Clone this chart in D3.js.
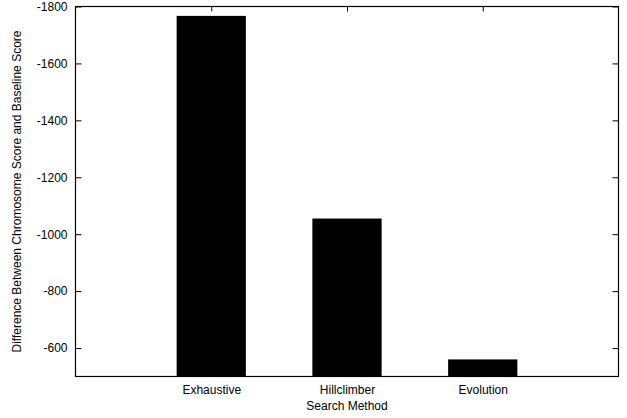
<!DOCTYPE html>
<html><head><meta charset="utf-8">
<script src="https://cdn.jsdelivr.net/npm/d3@7"></script>
<style>body{margin:0;background:#fff}svg{display:block}text{font-family:"Liberation Sans",Arial,sans-serif;font-size:12px;fill:#000}</style>
</head><body>
<svg id="c" width="627" height="418"></svg>
<script>
const categories = ["Exhaustive", "Hillclimber", "Evolution"];
const values = [-1767, -1055, -560];
const yTicks = [-1800, -1600, -1400, -1200, -1000, -800, -600];

const svg = d3.select("#c");
const m = {l: 75.5, t: 6.5, r: 618.5, b: 376.5};
const x = d3.scaleLinear().domain([0, 4]).range([m.l, m.r]);
const y = d3.scaleLinear().domain([-1800, -500]).range([m.t, m.b]);
const bw = 0.51;

// bars
svg.selectAll("rect.bar").data(values).enter().append("rect")
  .attr("x", (d, i) => x(i + 1 - bw / 2))
  .attr("width", (d, i) => x(i + 1 + bw / 2) - x(i + 1 - bw / 2))
  .attr("y", d => y(d))
  .attr("height", d => y(-500) - y(d))
  .attr("fill", "#000");

// axes
const g = svg.append("g");
g.append("g").attr("transform", `translate(${m.l},0)`)
  .call(d3.axisLeft(y).tickValues(yTicks).tickSize(-6).tickFormat(d => String(d)))
  .call(s => { s.select(".domain").remove(); s.selectAll("text").style("font-size","12px").style("font-family","Liberation Sans, Arial, sans-serif").attr("x", -8); });
g.append("g").attr("transform", `translate(${m.r},0)`)
  .call(d3.axisRight(y).tickValues(yTicks).tickSize(-6).tickFormat(""))
  .call(s => s.select(".domain").remove());
g.append("g").attr("transform", `translate(0,${m.t})`)
  .call(d3.axisTop(x).tickValues([1, 2, 3]).tickSize(-5).tickFormat(""))
  .call(s => s.select(".domain").remove());
g.append("g").attr("transform", `translate(0,${m.b})`)
  .call(d3.axisBottom(x).tickValues([1, 2, 3]).tickSize(-5).tickPadding(9).tickFormat((d, i) => categories[i]))
  .call(s => { s.select(".domain").remove(); s.selectAll("text").style("font-size","12px").style("font-family","Liberation Sans, Arial, sans-serif"); });
g.selectAll(".tick line").attr("stroke", "#000").attr("stroke-width", 1);

svg.append("rect").attr("x", m.l).attr("y", m.t).attr("width", m.r - m.l).attr("height", m.b - m.t)
  .attr("fill", "none").attr("stroke", "#000").attr("stroke-width", 1.2);

svg.append("text").attr("x", (m.l + m.r) / 2).attr("y", 410).attr("text-anchor", "middle").text("Search Method");
svg.append("text").attr("transform", `translate(21,${(m.t + m.b) / 2}) rotate(-90)`)
  .attr("text-anchor", "middle").text("Difference Between Chromosome Score and Baseline Score");
</script>
</body></html>
